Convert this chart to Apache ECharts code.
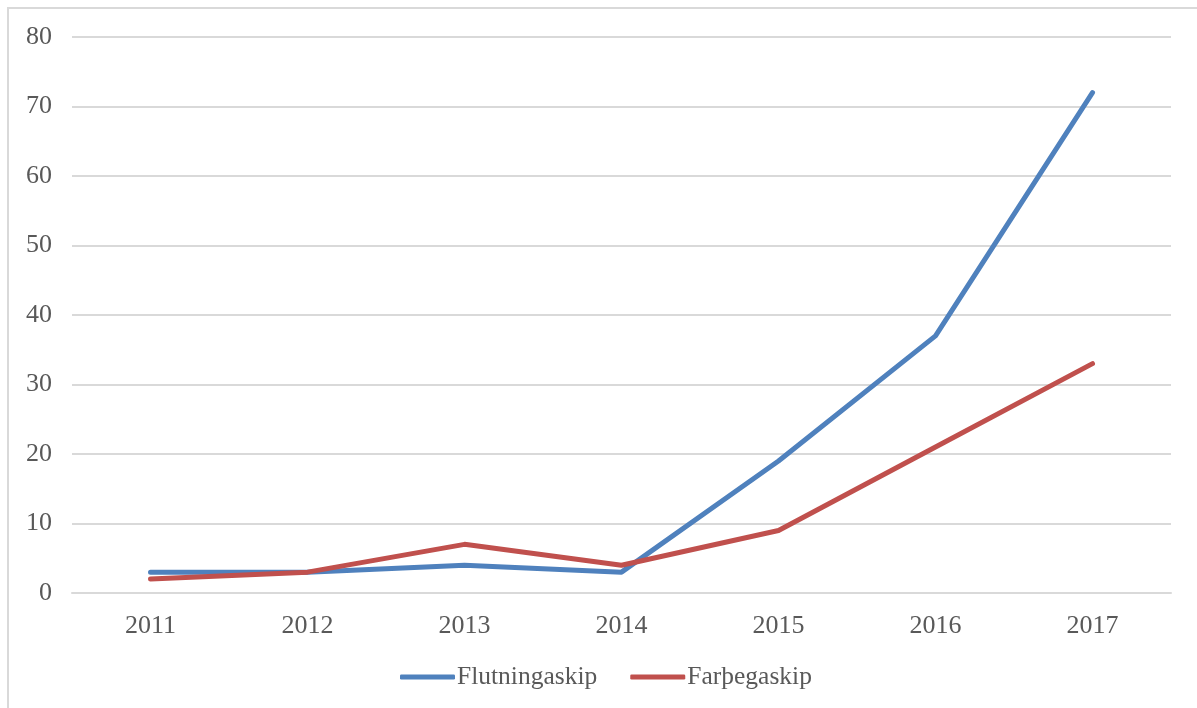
<!DOCTYPE html>
<html>
<head>
<meta charset="utf-8">
<script src="https://cdn.jsdelivr.net/npm/echarts@6/dist/echarts.min.js"></script>
<style>
html,body{margin:0;padding:0;background:#fff;overflow:hidden;}
#frame{position:absolute;left:7px;top:7px;width:1300px;height:800px;border-left:2px solid #d9d9d9;border-top:2px solid #d9d9d9;}
#chart{position:absolute;left:0;top:0;width:1197px;height:708px;}
</style>
</head>
<body>
<div id="frame"></div>
<div id="chart"></div>
<script>
const years = ['2011','2012','2013','2014','2015','2016','2017'];
const flutningaskip = [3, 3, 4, 3, 19, 37, 72];
const farthegaskip = [2, 3, 7, 4, 9, 21, 33];
const seriesNames = ['Flutningaskip', 'Farþegaskip'];

const font = '"Liberation Serif", "DejaVu Serif", serif';
const chart = echarts.init(document.getElementById('chart'), null, {renderer: 'canvas'});
chart.setOption({
  animation: false,
  backgroundColor: 'transparent',
  textStyle: {fontFamily: font},
  legend: {
    bottom: 13,
    left: 395,
    itemWidth: 55,
    itemHeight: 5,
    itemGap: 33,
    icon: 'roundRect',
    textStyle: {fontFamily: font, fontSize: 25.5, color: '#595959', padding: [0,0,0,-3]},
    data: seriesNames
  },
  grid: {left: 72, right: 26, top: 37, bottom: 115, containLabel: false},
  xAxis: {
    type: 'category',
    data: years,
    boundaryGap: true,
    axisLine: {show: true, lineStyle: {color: '#d9d9d9', width: 2}},
    axisTick: {show: false},
    axisLabel: {fontFamily: font, fontSize: 26, color: '#595959', margin: 20}
  },
  yAxis: {
    type: 'value',
    min: 0, max: 80, interval: 10,
    axisLine: {show: false},
    axisTick: {show: false},
    splitLine: {lineStyle: {color: '#d9d9d9', width: 2}},
    axisLabel: {fontFamily: font, fontSize: 26, color: '#595959', margin: 20}
  },
  series: [
    {name: seriesNames[0], type: 'line', data: flutningaskip, symbol: 'none',
     lineStyle: {width: 5, color: '#4F81BD', cap: 'round', join: 'round'}, itemStyle: {color: '#4F81BD'}},
    {name: seriesNames[1], type: 'line', data: farthegaskip, symbol: 'none',
     lineStyle: {width: 5, color: '#C0504D', cap: 'round', join: 'round'}, itemStyle: {color: '#C0504D'}}
  ]
});
</script>
</body>
</html>
